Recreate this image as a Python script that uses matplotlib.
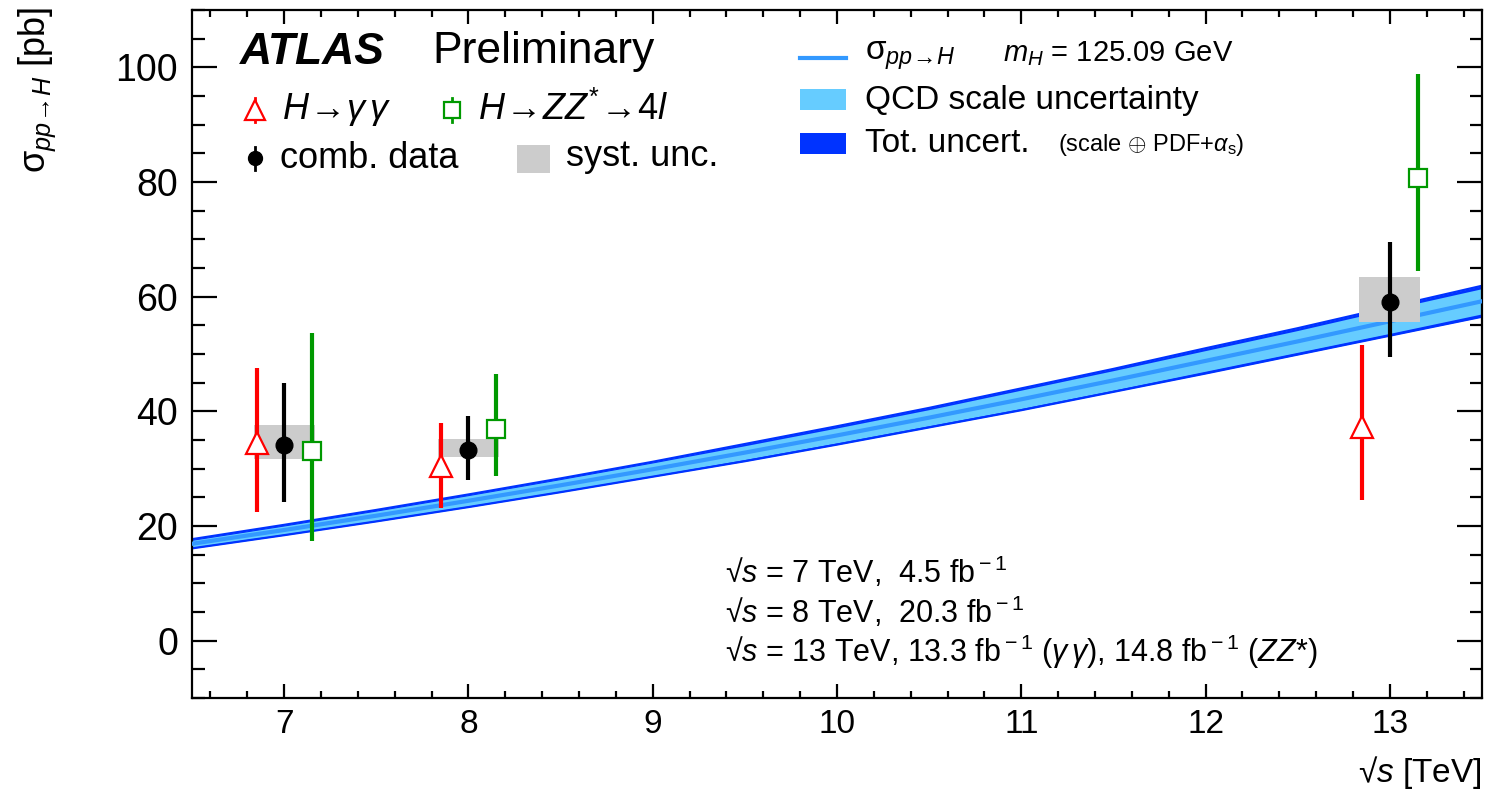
import matplotlib
matplotlib.use("Agg")
import matplotlib.pyplot as plt
from matplotlib.ticker import MultipleLocator

plt.rcParams['font.family'] = ['Liberation Sans', 'DejaVu Sans']
plt.rcParams['mathtext.fontset'] = 'custom'
plt.rcParams['mathtext.rm'] = 'Liberation Sans'
plt.rcParams['mathtext.it'] = 'Liberation Sans:italic'
plt.rcParams['mathtext.bf'] = 'Liberation Sans:bold'

# theory prediction vs sqrt(s) [TeV]
sqrt_s = [6.5, 7, 7.5, 8, 8.5, 9, 9.5, 10, 10.5, 11, 11.5, 12, 12.5, 13, 13.5]
xsec = [16.9, 19.3, 21.8, 24.4, 27.1, 29.9, 32.8, 35.8, 38.9, 42.1, 45.4, 48.8, 52.2, 55.7, 59.2]
tot_hi = [17.7, 20.2, 22.8, 25.5, 28.3, 31.2, 34.3, 37.4, 40.6, 44.0, 47.4, 51.0, 54.5, 58.2, 61.9]
tot_lo = [16.1, 18.4, 20.8, 23.3, 25.9, 28.6, 31.3, 34.2, 37.2, 40.2, 43.4, 46.6, 49.9, 53.2, 56.5]
scale_hi = [17.5, 20.0, 22.6, 25.3, 28.1, 31.0, 34.0, 37.1, 40.3, 43.7, 47.1, 50.6, 54.1, 57.8, 61.4]
scale_lo = [16.3, 18.6, 21.0, 23.5, 26.1, 28.8, 31.6, 34.5, 37.5, 40.5, 43.7, 47.0, 50.3, 53.6, 57.0]

# measurements
x_comb = [7, 8, 13]
comb = [34.2, 33.3, 59.1]
comb_lo = [24.2, 28.0, 49.4]
comb_hi = [44.9, 39.1, 69.5]
syst_lo = [31.7, 32.1, 55.6]
syst_hi = [37.7, 35.1, 63.4]

x_gg = [6.85, 7.85, 12.85]
gg = [34.5, 30.4, 37.3]
gg_lo = [22.5, 23.2, 24.6]
gg_hi = [47.6, 38.0, 51.6]

x_zz = [7.15, 8.15, 13.15]
zz = [33.0, 37.0, 80.7]
zz_lo = [17.4, 28.8, 64.5]
zz_hi = [53.7, 46.5, 98.8]

c_tot = '#0033ff'
c_scale = '#66ccff'
c_line = '#3399ff'
c_syst = '#cccccc'
c_red = '#ff0000'
c_green = '#009900'

fig = plt.figure(figsize=(14.88, 8.0), dpi=100)
ax = fig.add_axes([192 / 1488, 102 / 800, 1290 / 1488, 688 / 800])

ax.fill_between(sqrt_s, tot_lo, tot_hi, color=c_tot, lw=0, zorder=1)
ax.fill_between(sqrt_s, scale_lo, scale_hi, color=c_scale, lw=0, zorder=2)
ax.plot(sqrt_s, tot_hi, color=c_tot, lw=1.6, zorder=2)
ax.plot(sqrt_s, tot_lo, color=c_tot, lw=1.6, zorder=2)
ax.plot(sqrt_s, xsec, color=c_line, lw=3, zorder=3)

ax.bar(x_comb, [h - l for h, l in zip(syst_hi, syst_lo)], bottom=syst_lo,
       width=0.33, color=c_syst, lw=0, zorder=4)


def err(c, lo, hi):
    return [[a - b for a, b in zip(c, lo)], [b - a for a, b in zip(c, hi)]]


ax.errorbar(x_gg, gg, yerr=err(gg, gg_lo, gg_hi), fmt='^', color=c_red,
            mfc='white', mec=c_red, ms=16, mew=1.6, elinewidth=3, capsize=0, zorder=5)
ax.errorbar(x_zz, zz, yerr=err(zz, zz_lo, zz_hi), fmt='s', color=c_green,
            mfc='white', mec=c_green, ms=13, mew=1.6, elinewidth=3, capsize=0, zorder=5)
ax.errorbar(x_comb, comb, yerr=err(comb, comb_lo, comb_hi), fmt='o', color='black',
            ms=12, elinewidth=3, capsize=0, zorder=6)

ax.set_xlim(6.5, 13.5)
ax.set_ylim(-10, 110)
ax.xaxis.set_major_locator(MultipleLocator(1))
ax.xaxis.set_minor_locator(MultipleLocator(0.2))
ax.yaxis.set_major_locator(MultipleLocator(20))
ax.yaxis.set_minor_locator(MultipleLocator(5))
ax.tick_params(axis='both', which='both', direction='in', top=True, right=True, width=1.6)
ax.tick_params(axis='x', which='major', length=10, labelsize=24, pad=8)
ax.tick_params(axis='x', which='minor', length=5)
ax.tick_params(axis='y', which='major', length=18, labelsize=27, pad=10)
ax.tick_params(axis='y', which='minor', length=9)
for s in ax.spines.values():
    s.set_linewidth(1.6)

ax.set_ylabel(r'$\mathrm{\sigma}_{pp\!\rightarrow\! H}$ [pb]', fontsize=26, loc='top')
ax.yaxis.set_label_coords(-0.104, 1.005)
ax.set_xlabel('√$s$ [TeV]', fontsize=24, loc='right', labelpad=10)


def fx(px):
    return (px - 192) / 1290


def fy(py):
    return (698 - py) / 688


tr = ax.transAxes
# ATLAS label
ax.text(fx(240), fy(52), 'ATLAS', fontsize=32, fontweight='bold', style='italic',
        transform=tr, va='center')
ax.text(fx(432), fy(52), 'Preliminary', fontsize=32, transform=tr, va='center')

# left legend
ax.plot([fx(255)], [fy(110)], marker='^', ms=14, mfc='white', mec=c_red, mew=1.6,
        transform=tr, clip_on=False, zorder=7)
ax.plot([fx(255), fx(255)], [fy(98), fy(122)], color=c_red, lw=2, transform=tr, zorder=6)
ax.text(fx(282), fy(110), r'$H\!\rightarrow\!\gamma\,\gamma$', fontsize=26, transform=tr, va='center')
ax.plot([fx(452)], [fy(110)], marker='s', ms=11, mfc='white', mec=c_green, mew=1.6,
        transform=tr, zorder=7)
ax.plot([fx(452), fx(452)], [fy(98), fy(122)], color=c_green, lw=2, transform=tr, zorder=6)
ax.text(fx(478), fy(110), r'$H\!\rightarrow\!ZZ^{*}\!\rightarrow\!4l$', fontsize=26,
        transform=tr, va='center')
ax.plot([fx(255)], [fy(158)], marker='o', ms=10, color='black', transform=tr, zorder=7)
ax.plot([fx(255), fx(255)], [fy(147), fy(170)], color='black', lw=2, transform=tr, zorder=6)
ax.text(fx(280), fy(158), 'comb. data', fontsize=26, transform=tr, va='center')
ax.add_patch(plt.Rectangle((fx(517), fy(173)), fx(550) - fx(517), fy(145) - fy(173),
                           color=c_syst, lw=0, transform=tr))
ax.text(fx(566), fy(156), 'syst. unc.', fontsize=26, transform=tr, va='center')

# right legend
ax.plot([fx(800), fx(846)], [fy(58), fy(58)], color=c_line, lw=3, transform=tr)
ax.text(fx(865), fy(56), r'$\mathrm{\sigma}_{pp\!\rightarrow\! H}$', fontsize=24, transform=tr, va='center')
ax.text(fx(1003), fy(54), r'$m_H$ = 125.09 GeV', fontsize=21, transform=tr, va='center')
ax.add_patch(plt.Rectangle((fx(800), fy(110)), fx(846) - fx(800), fy(89) - fy(110),
                           color=c_scale, lw=0, transform=tr))
ax.text(fx(865), fy(100), 'QCD scale uncertainty', fontsize=24, transform=tr, va='center')
ax.add_patch(plt.Rectangle((fx(800), fy(154)), fx(846) - fx(800), fy(133) - fy(154),
                           color=c_tot, lw=0, transform=tr))
ax.text(fx(865), fy(143), 'Tot. uncert.', fontsize=24, transform=tr, va='center')
ax.text(fx(1058), fy(145), r'(scale $\oplus$ PDF+$\alpha_{\rm s}$)', fontsize=17,
        transform=tr, va='center')

# luminosity text
lumi = ['√$s$ = 7 TeV,  4.5 fb$^{\\rm -1}$',
        '√$s$ = 8 TeV,  20.3 fb$^{\\rm -1}$',
        '√$s$ = 13 TeV, 13.3 fb$^{\\rm -1}$ ($\\gamma\\,\\gamma$), 14.8 fb$^{\\rm -1}$ ($ZZ$*)']
for i, t in enumerate(lumi):
    ax.text(fx(725), fy(572 + 40 * i), t, fontsize=22, transform=tr, va='center')

fig.savefig('out.png', dpi=100)
